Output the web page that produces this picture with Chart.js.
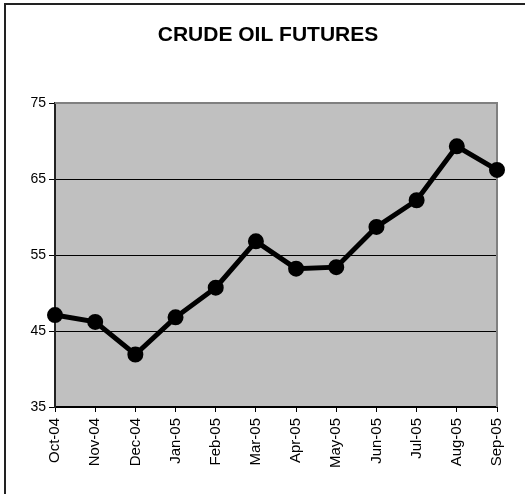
<!DOCTYPE html>
<html>
<head>
<meta charset="utf-8">
<script src="https://cdn.jsdelivr.net/npm/chart.js@4"></script>
<style>
html,body{margin:0;padding:0;background:#fff;}
canvas{display:block;}
</style>
</head>
<body>
<canvas id="c" width="525" height="494"></canvas>
<script>
const titleText = "CRUDE OIL FUTURES";
const categories = ["Oct-04","Nov-04","Dec-04","Jan-05","Feb-05","Mar-05","Apr-05","May-05","Jun-05","Jul-05","Aug-05","Sep-05"];
const prices = [47.1, 46.2, 41.9, 46.8, 50.7, 56.8, 53.2, 53.4, 58.7, 62.2, 69.3, 66.2];
const yMin = 35, yMax = 75, yStep = 10;

const FONT = "'Liberation Sans', Arial, sans-serif";

const framePlugin = {
  id: 'frame',
  beforeDraw(chart) {
    const ctx = chart.ctx, a = chart.chartArea;
    ctx.save();
    ctx.fillStyle = '#fff';
    ctx.fillRect(0, 0, chart.width, chart.height);
    ctx.strokeStyle = '#222';
    ctx.lineWidth = 2;
    ctx.beginPath();
    ctx.moveTo(5, chart.height);
    ctx.lineTo(5, 4);
    ctx.lineTo(chart.width, 4);
    ctx.stroke();
    ctx.fillStyle = '#c0c0c0';
    ctx.fillRect(a.left, a.top, a.right - a.left, a.bottom - a.top);
    // title text
    ctx.fillStyle = '#000';
    ctx.font = "bold 21px " + FONT;
    ctx.textAlign = 'center';
    ctx.textBaseline = 'middle';
    ctx.fillText(titleText, 268, 35);
    ctx.restore();
  },
  beforeDatasetsDraw(chart) {
    const ctx = chart.ctx, a = chart.chartArea;
    ctx.save();
    ctx.strokeStyle = '#808080';
    ctx.lineWidth = 2;
    ctx.beginPath();
    ctx.moveTo(a.left, a.top);
    ctx.lineTo(a.right, a.top);
    ctx.lineTo(a.right, a.bottom);
    ctx.stroke();
    ctx.restore();
  }
};

new Chart(document.getElementById('c'), {
  type: 'line',
  data: {
    labels: categories,
    datasets: [{
      data: prices,
      borderColor: '#000',
      borderWidth: 5,
      backgroundColor: '#000',
      pointBackgroundColor: '#000',
      pointBorderColor: '#000',
      pointRadius: 7,
      pointBorderWidth: 2,
      tension: 0,
      fill: false,
      clip: false
    }]
  },
  options: {
    responsive: false,
    animation: false,
    devicePixelRatio: 1,
    layout: { padding: { left: 0, right: 28, top: 103, bottom: 0 } },
    plugins: {
      legend: { display: false },
      tooltip: { enabled: false },
      title: { display: false }
    },
    scales: {
      x: {
        offset: false,
        afterFit(s) { s.height = 87; },
        grid: { drawOnChartArea: false, drawTicks: true, tickLength: 5, tickColor: '#000', tickWidth: 1 },
        border: { display: true, color: '#000', width: 2 },
        ticks: {
          color: '#000',
          font: { family: FONT, size: 15 },
          minRotation: 90, maxRotation: 90,
          autoSkip: false,
          padding: 6
        }
      },
      y: {
        min: yMin, max: yMax,
        afterFit(s) { s.width = 55; },
        grid: {
          color: (c) => (c.tick && c.tick.value === yMax) ? 'rgba(0,0,0,0)' : '#000',
          lineWidth: 1,
          drawTicks: true, tickLength: 6, tickColor: '#000', tickWidth: 1
        },
        border: { display: true, color: '#222', width: 2 },
        ticks: {
          stepSize: yStep,
          color: '#000',
          font: { family: FONT, size: 14 },
          padding: 3
        }
      }
    }
  },
  plugins: [framePlugin]
});
</script>
</body>
</html>
